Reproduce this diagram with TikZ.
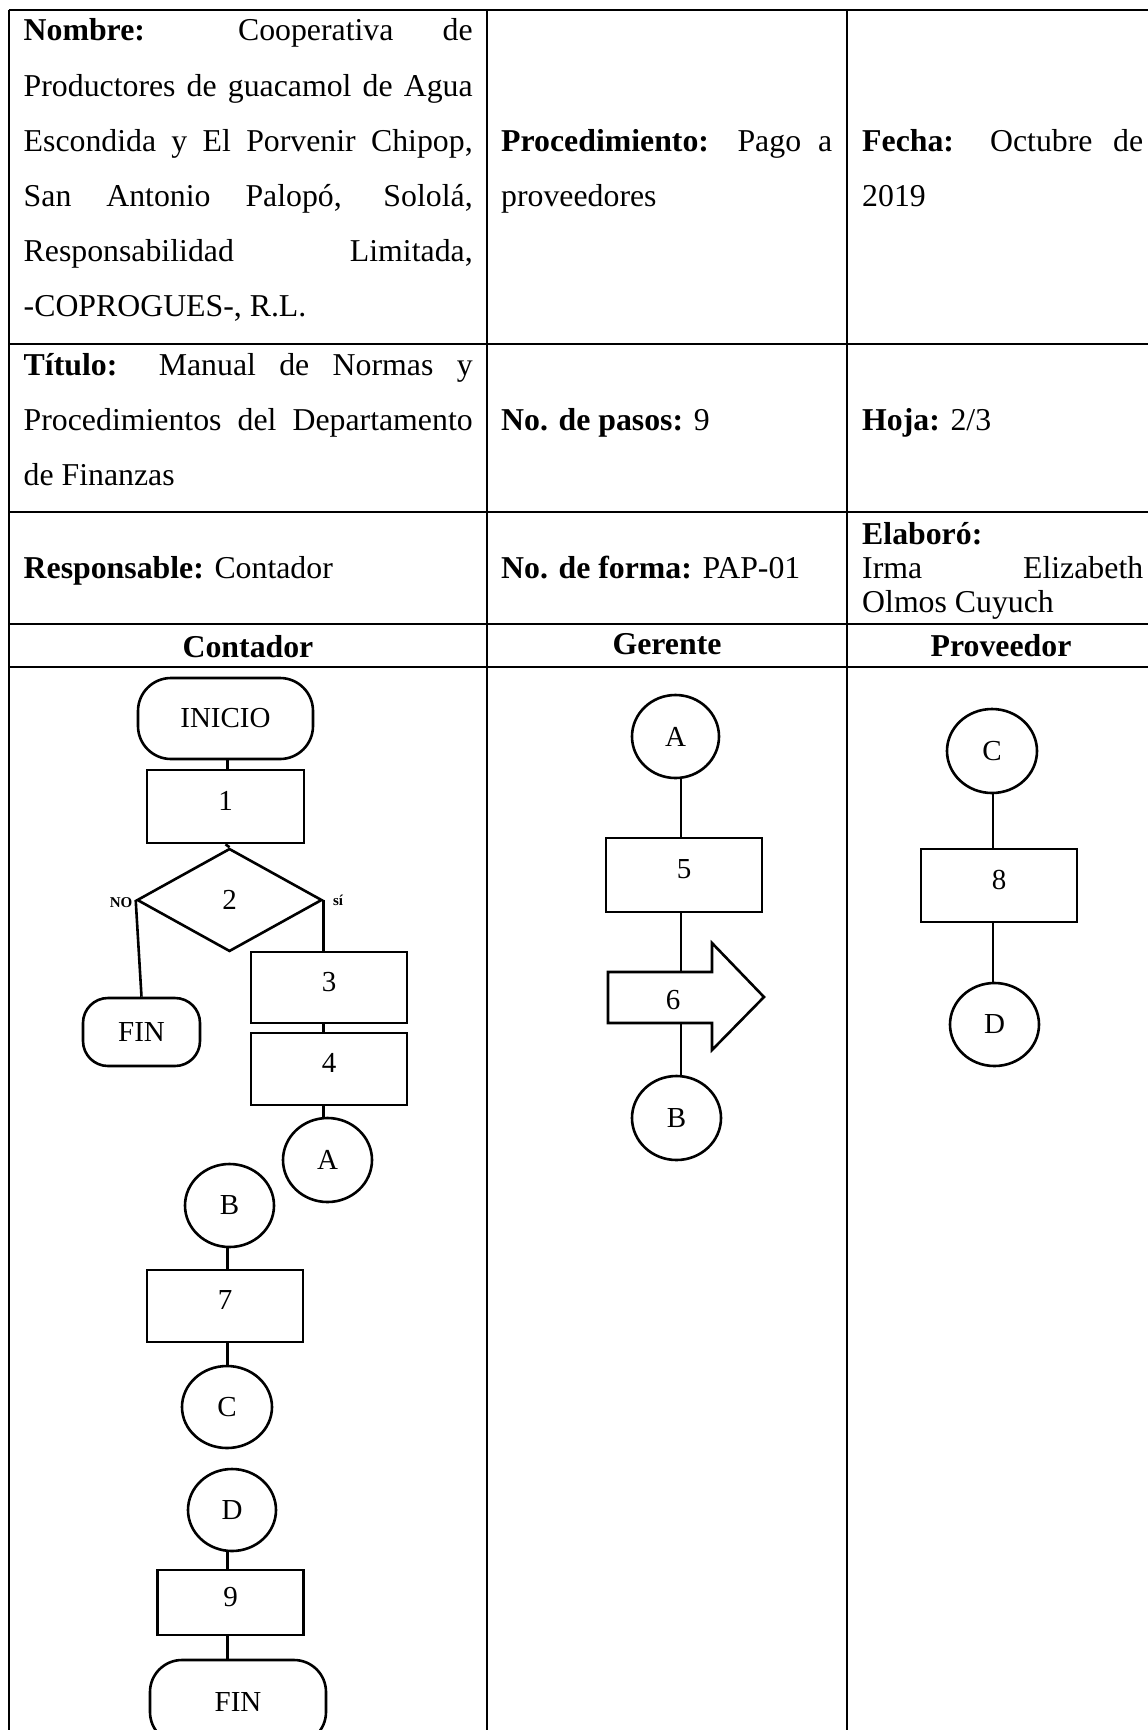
\documentclass[tikz,border=0pt]{standalone}
\usepackage{fontspec}
\setmainfont{Liberation Serif}
\usetikzlibrary{shapes.geometric}
\begin{document}
\begin{tikzpicture}[x=1pt,y=-1pt,
  tline/.style={line width=2pt},
  shp/.style={draw, line width=2.6pt, inner sep=0pt, font=\fontsize{29}{32}\selectfont},
  box/.style={shp, rectangle, text height=20pt, text depth=12.5pt},
  term/.style={shp, rectangle},
  conn/.style={shp, ellipse},
  lnk/.style={line width=2.6pt},
  cell/.style={anchor=base west, inner sep=0pt, font=\fontsize{31.8}{36}\selectfont},
  head/.style={anchor=base, inner sep=0pt, font=\fontsize{31.8}{36}\selectfont\bfseries},
  tiny/.style={inner sep=0pt, font=\fontsize{15}{16}\selectfont\bfseries}
]
\useasboundingbox (0,0) rectangle (1148,1730);
\clip (0,0) rectangle (1148,1730);

% ---- table grid ----
\draw[tline] (8.5,10) -- (1160,10);
\draw[tline] (8.5,344) -- (1160,344);
\draw[tline] (8.5,511.5) -- (1160,511.5);
\draw[tline] (8.5,624) -- (1160,624);
\draw[tline] (8.5,667) -- (1160,667);
\draw[tline] (8.5,10) -- (8.5,1745);
\draw[tline] (487,10) -- (487,1745);
\draw[tline] (847,10) -- (847,1745);
\draw[tline] (1160,10) -- (1160,1745);

% ---- row 1 ----
\node[cell] (n1) at (23.5,40.7) {\makebox[449pt][s]{\textbf{Nombre:} Cooperativa de}};
\node[cell] (n2) at (23.5,96) {\makebox[449pt][s]{Productores de guacamol de Agua}};
\node[cell] (n3) at (23.5,151.7) {\makebox[449pt][s]{Escondida y El Porvenir Chipop,}};
\node[cell] (n4) at (23.5,206.7) {\makebox[449pt][s]{San Antonio Palopó, Sololá,}};
\node[cell] (n5) at (23.5,261.7) {\makebox[449pt][s]{Responsabilidad Limitada,}};
\node[cell] (n6) at (23.5,316.7) {-COPROGUES-, R.L.};
\node[cell] (p1) at (501,151.7) {\makebox[331pt][s]{\textbf{Procedimiento:} Pago a}};
\node[cell] (p2) at (501,206.7) {proveedores};
\node[cell] (f1t) at (862,151.7) {\makebox[281pt][s]{\textbf{Fecha:} Octubre de}};
\node[cell] (f2t) at (862,206.7) {2019};

% ---- row 2 ----
\node[cell] (t1) at (23.5,375) {\makebox[449pt][s]{\textbf{Título:} Manual de Normas y}};
\node[cell] (t2) at (23.5,430) {\makebox[449pt][s]{Procedimientos del Departamento}};
\node[cell] (t3) at (23.5,485) {de Finanzas};
\node[cell] (np) at (501,430) {\textbf{No. de pasos:} 9};
\node[cell] (hj) at (862,430) {\textbf{Hoja:} 2/3};

% ---- row 3 ----
\node[cell] (rs) at (23.5,578) {\textbf{Responsable:} Contador};
\node[cell] (nf) at (501,578) {\textbf{No. de forma:} PAP-01};
\node[cell] (e1) at (862,544) {\textbf{Elaboró:}};
\node[cell] (e2) at (862,578) {\makebox[281pt][s]{Irma Elizabeth}};
\node[cell] (e3) at (862,612) {Olmos Cuyuch};

% ---- headers ----
\node[head] (hc) at (248,657) {Contador};
\node[head] (hg) at (667,654) {Gerente};
\node[head] (hp) at (1001,656) {Proveedor};

% ---- Contador lane ----
\node[term, rounded corners=33pt, minimum width=175, minimum height=81] (ini) at (225.5,718.5) {INICIO};
\node[box, minimum width=157, minimum height=73] (s1) at (225.5,806.5) {1};
\node[shp, diamond, aspect=1.8, minimum width=185, minimum height=103] (s2) at (229.5,900) {2};
\node[tiny] (no) at (121,903) {NO};
\node[tiny] (si) at (338,900) {sí};
\node[term, rounded corners=25pt, minimum width=117, minimum height=68] (fin1) at (141.5,1032) {FIN};
\node[box, minimum width=156, minimum height=71] (s3) at (329,987.5) {3};
\node[box, minimum width=156, minimum height=72] (s4) at (329,1069) {4};
\node[conn, minimum width=89, minimum height=84] (A1) at (327.5,1160) {A};
\node[conn, minimum width=89, minimum height=83] (B1) at (229.5,1205.5) {B};
\node[box, minimum width=156, minimum height=72] (s7) at (225,1306) {7};
\node[conn, minimum width=90, minimum height=82] (C1) at (227,1407) {C};
\node[conn, minimum width=88, minimum height=82] (D1) at (232,1510) {D};
\node[box, minimum width=146, minimum height=65] (s9) at (230.5,1602.5) {9};
\node[term, rounded corners=32pt, minimum width=176, minimum height=84] (fin2) at (238,1702) {FIN};

\coordinate (lx) at (227.5,0);
\draw[lnk] (ini.south -| lx) -- (s1.north -| lx);
\draw[lnk] (s1.south) -- (s2.north);
\draw[lnk] (s2.west) -- (fin1.north);
\draw[lnk] (s2.east) -- (s2.east |- s3.north);
\draw[lnk] (s3.south -| s2.east) -- (s4.north -| s2.east);
\draw[lnk] (s4.south -| s2.east) -- (A1.north -| s2.east);
\draw[lnk] (B1.south -| lx) -- (s7.north -| lx);
\draw[lnk] (s7.south -| lx) -- (C1.north -| lx);
\draw[lnk] (D1.south -| lx) -- (s9.north -| lx);
\draw[lnk] (s9.south -| lx) -- (fin2.north -| lx);

% ---- Gerente lane ----
\node[conn, minimum width=87, minimum height=83] (A2) at (675.5,736.5) {A};
\node[box, minimum width=156, minimum height=74] (s5) at (684,875) {5};
\draw[line width=2.6pt, line join=miter] (608,972) -- (712,972) -- (712,943) -- (764,997) -- (712,1050) -- (712,1023) -- (608,1023) -- cycle;
\node[inner sep=0pt, font=\fontsize{29}{32}\selectfont] (s6) at (673,1000) {6};
\coordinate (a6t) at (681,972);
\coordinate (a6b) at (681,1023);
\node[conn, minimum width=89, minimum height=84] (B2) at (676.5,1118) {B};

\coordinate (gx) at (681,0);
\draw[lnk] (A2.south -| gx) -- (s5.north -| gx);
\draw[lnk] (s5.south -| gx) -- (a6t);
\draw[lnk] (a6b) -- (B2.north -| gx);

% ---- Proveedor lane ----
\node[conn, minimum width=90, minimum height=84] (C2) at (992,751) {C};
\node[box, minimum width=156, minimum height=73] (s8) at (999,885.5) {8};
\node[conn, minimum width=89, minimum height=83] (D2) at (994.5,1024.5) {D};

\coordinate (rx) at (993,0);
\draw[lnk] (C2.south -| rx) -- (s8.north -| rx);
\draw[lnk] (s8.south -| rx) -- (D2.north -| rx);
\end{tikzpicture}
\end{document}
